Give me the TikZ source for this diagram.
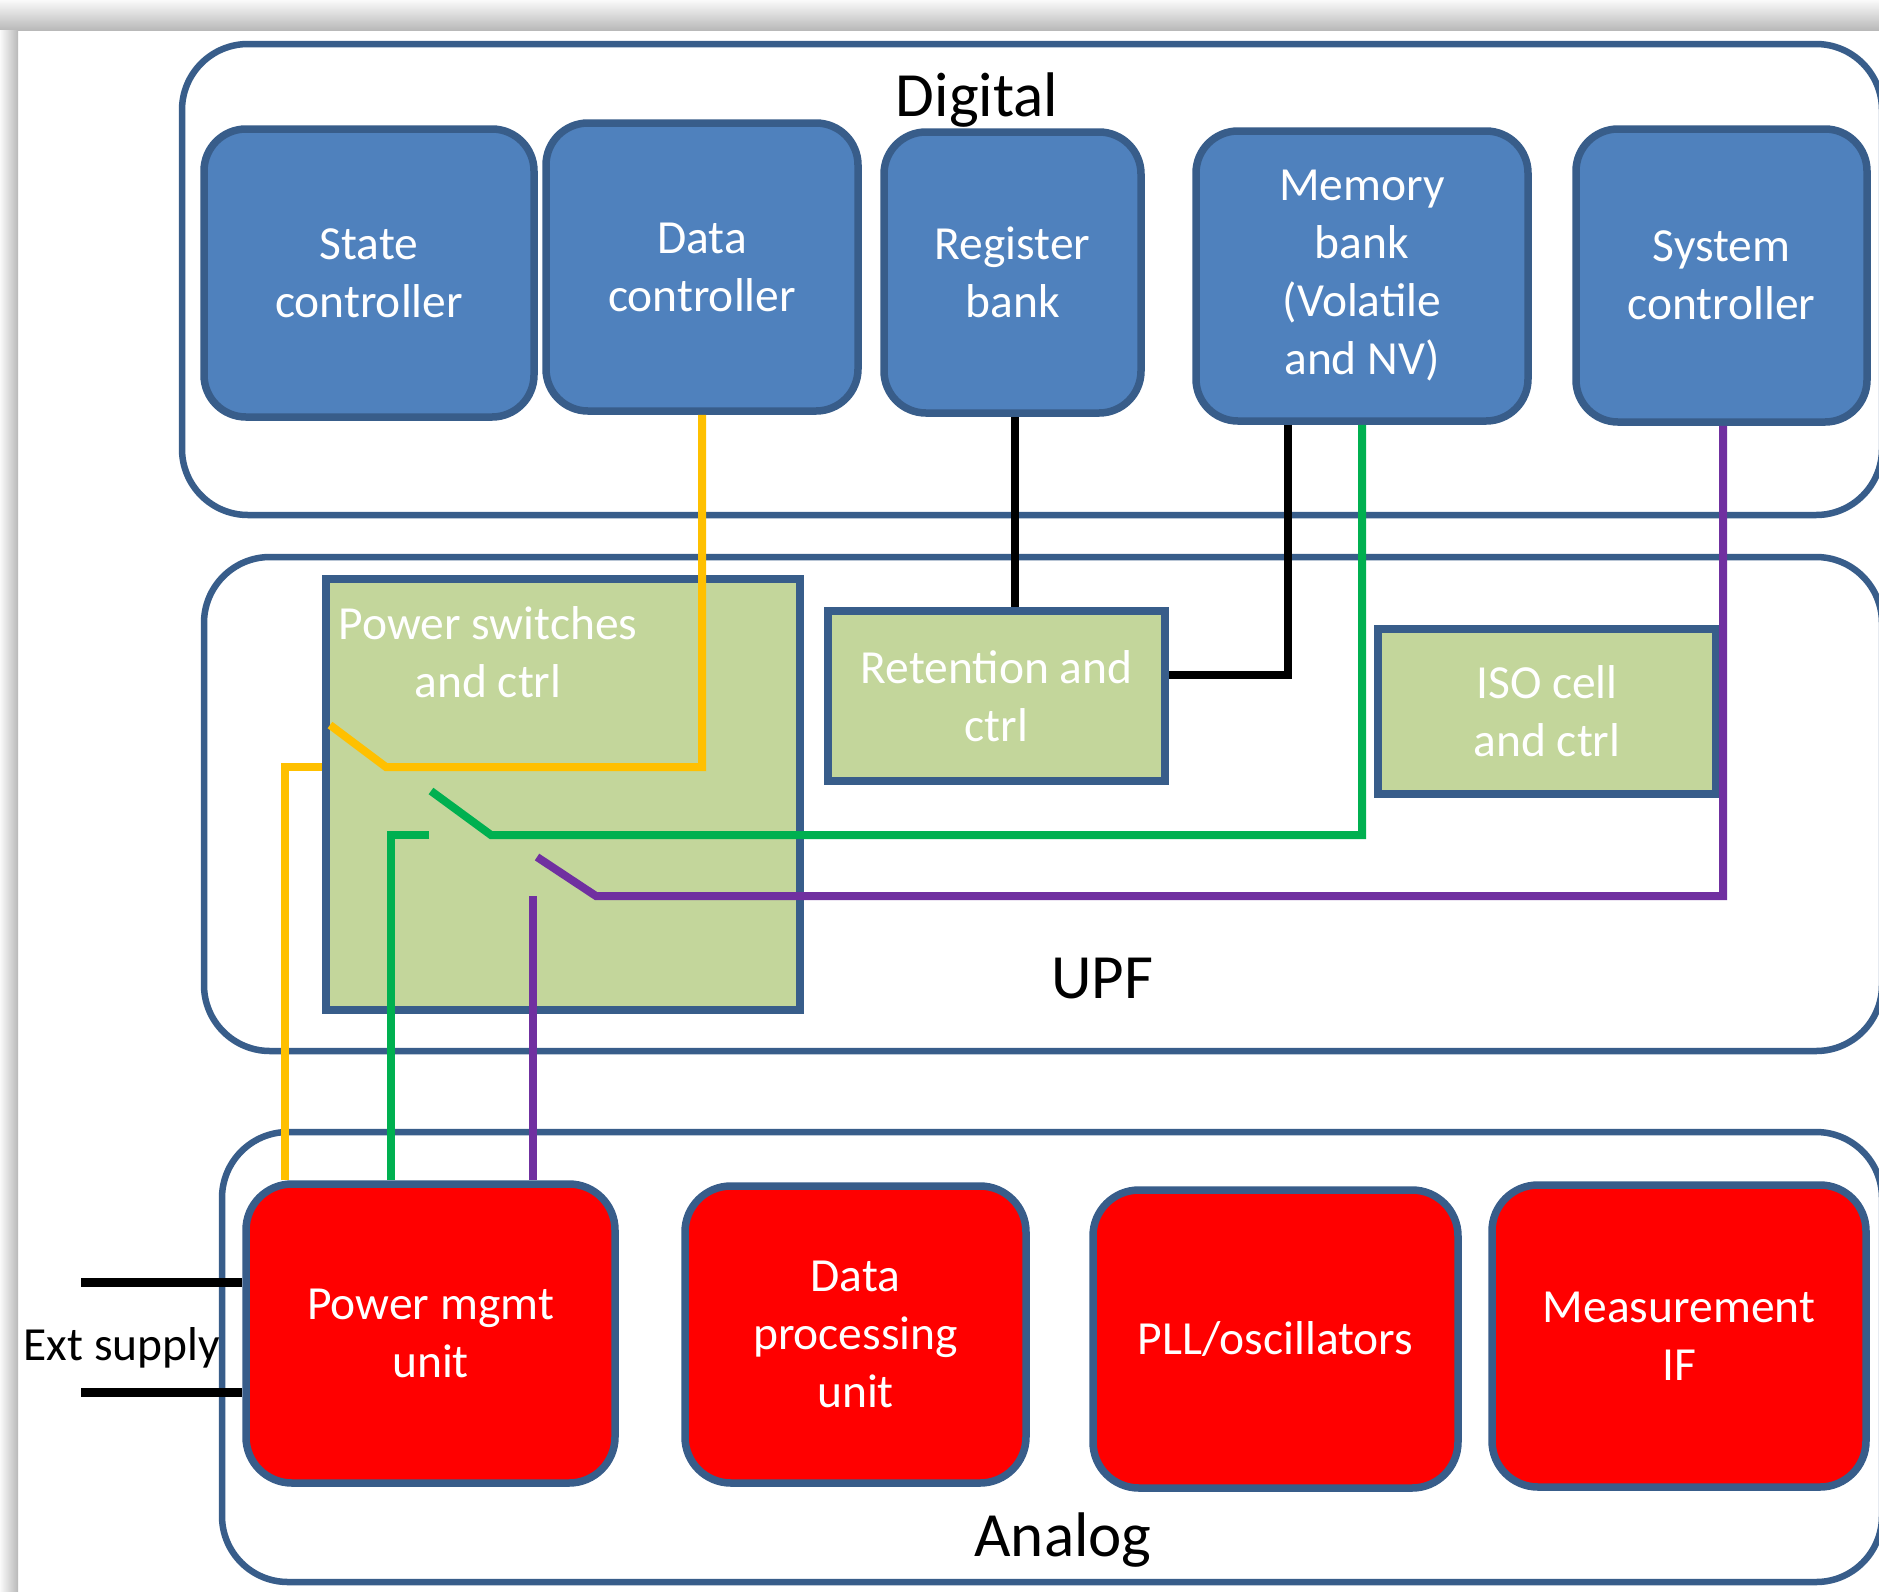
\documentclass[tikz,border=0pt]{standalone}
\usepackage{fontspec}
\setmainfont{Carlito}
\usetikzlibrary{positioning}

\definecolor{edge}{HTML}{385D8A}
\definecolor{digfill}{HTML}{4F81BD}
\definecolor{upffill}{HTML}{C3D69B}
\definecolor{anafill}{HTML}{FF0000}
\definecolor{wyellow}{HTML}{FFC000}
\definecolor{wgreen}{HTML}{00B050}
\definecolor{wpurple}{HTML}{7030A0}

\newcommand{\boxfont}{\fontsize{47.5}{58}\selectfont}
\newcommand{\grpfont}{\fontsize{63}{74}\selectfont}

\begin{document}
\begin{tikzpicture}[x=1pt,y=-1pt,
    grp/.style={draw=edge,line width=6.5pt,rounded corners=66pt,inner sep=0pt},
    grplbl/.style={font=\grpfont,inner sep=0pt},
    dig/.style={draw=edge,fill=digfill,line width=7.5pt,rounded corners=42pt,
                align=center,text=white,font=\boxfont,inner sep=0pt},
    upf/.style={draw=edge,fill=upffill,line width=8pt,
                align=center,text=white,font=\boxfont,inner sep=0pt},
    ana/.style={draw=edge,fill=anafill,line width=7.5pt,rounded corners=46pt,
                align=center,text=white,font=\boxfont,inner sep=0pt},
    wire/.style={line width=8pt},
  ]
    % page with its shadow
    \clip (0,0) rectangle (1879,1591);
    \fill[white] (0,0) rectangle (1879,1591);
    \shade[top color=gray!4,bottom color=gray!55] (0,0) rectangle (1879,30);
    \shade[left color=gray!4,right color=gray!55] (0,30) rectangle (18,1591);

    % domains
    \node[grp,minimum width=1700pt,minimum height=471pt] (digital) at (1032,279.5) {};
    \node[grp,minimum width=1678pt,minimum height=494pt] (upfgrp)  at (1043,804) {};
    \node[grp,minimum width=1660pt,minimum height=450pt] (analog)  at (1052,1357) {};
    \node[grplbl] (diglbl) at (977,100)  {Digital};
    \node[grplbl] (upflbl) at (1102,979) {UPF};
    \node[grplbl] (analbl) at (1063,1540) {Analog};

    % digital blocks
    \node[dig,minimum width=330pt,minimum height=288pt] (state) at (369,273)    {State\\controller};
    \node[dig,minimum width=312pt,minimum height=288pt] (dctrl) at (702,267)    {Data\\controller};
    \node[dig,minimum width=257pt,minimum height=281pt] (regb)  at (1012.5,272.5) {Register\\bank};
    \node[dig,minimum width=332pt,minimum height=290pt] (memb)  at (1362,276)   {Memory\\bank\\(Volatile\\and NV)};
    \node[dig,minimum width=291pt,minimum height=293pt] (sysc)  at (1721.5,275.5) {System\\controller};

    % UPF blocks
    \node[upf,minimum width=474pt,minimum height=431pt] (psw) at (563,794.5) {};
    \node[font=\boxfont,text=white,align=center,inner sep=0pt] (pswlbl) at (488,652) {Power switches\\and ctrl};
    \node[upf,minimum width=337pt,minimum height=170pt] (ret) at (996.5,696)  {Retention and\\ctrl};
    \node[upf,minimum width=338pt,minimum height=165pt] (iso) at (1547,711.5) {ISO cell\\and ctrl};

    % analog blocks
    \node[ana,minimum width=369pt,minimum height=299pt] (pmu) at (430.5,1333.5) {Power mgmt\\unit};
    \node[ana,minimum width=341pt,minimum height=297pt] (dpu) at (855.5,1334.5) {Data\\processing\\unit};
    \node[ana,minimum width=365pt,minimum height=298pt] (pll) at (1275.5,1339) {PLL/oscillators};
    \node[ana,minimum width=374pt,minimum height=302pt] (mif) at (1679,1336)   {Measurement\\IF};

    % switch points
    \coordinate (ypiv) at (386,767);  \coordinate (ytip) at (330,725);  \coordinate (ydn) at (285,767);
    \coordinate (gpiv) at (491,835);  \coordinate (gtip) at (431,791);
    \coordinate (gend) at (429,835);  \coordinate (gdn) at (391,835);
    \coordinate (ppiv) at (596,896);  \coordinate (ptip) at (537,857);  \coordinate (pdn) at (533,896);
    \coordinate (mbk)  at (1288,675);

    \draw[wire,wyellow] (dctrl.south) |- (ypiv) -- (ytip);
    \draw[wire,wyellow] (psw.west |- ydn) -- (ydn) -- (ydn |- pmu.north);
    \draw[wire,wgreen]  (memb.south -| 1362,0) |- (gpiv) -- (gtip);
    \draw[wire,wgreen]  (gend) -- (gdn) -- (gdn |- pmu.north);
    \draw[wire,wpurple] (sysc.south -| 1723,0) |- (ppiv) -- (ptip);
    \draw[wire,wpurple] (pdn) -- (pdn |- pmu.north);
    \draw[wire] (regb.south -| 1015,0) -- (ret.north -| 1015,0);
    \draw[wire] (memb.south -| mbk) -- (mbk) -- (ret.east |- mbk);

    % external supply
    \coordinate (es1) at (81,1282);
    \coordinate (es2) at (81,1392);
    \draw[line width=9pt] (es1) -- (es1 -| pmu.west);
    \draw[line width=9pt] (es2) -- (es2 -| pmu.west);
    \node[font=\boxfont,inner sep=0pt] (extlbl) at (122,1348) {Ext supply};
\end{tikzpicture}
\end{document}
